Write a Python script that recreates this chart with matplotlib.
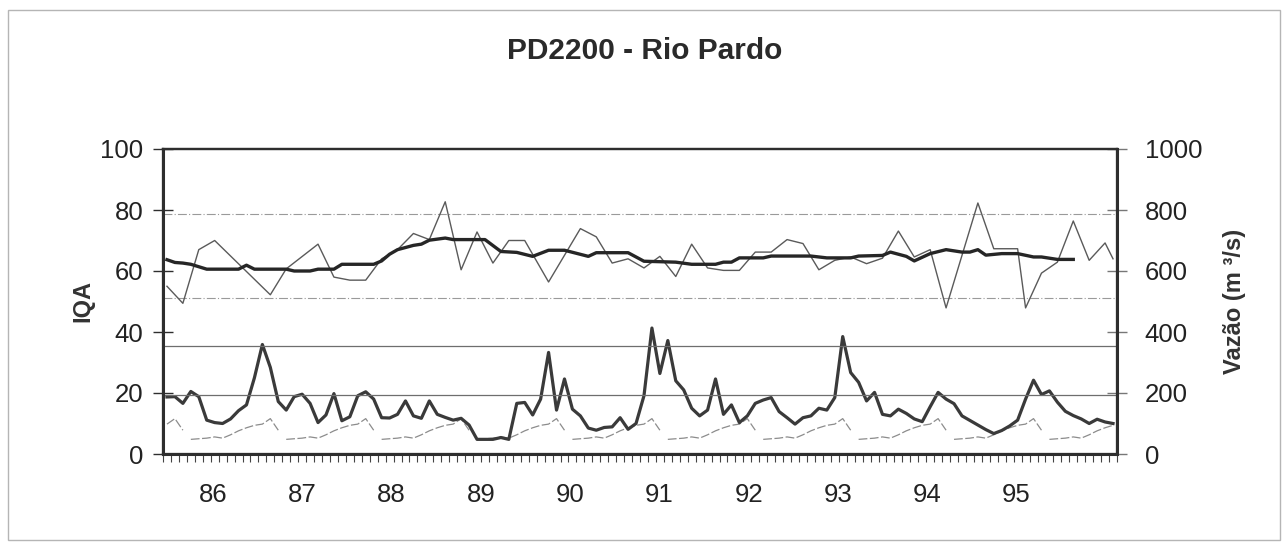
import numpy as np
import matplotlib
matplotlib.use("Agg")
import matplotlib.pyplot as plt
from matplotlib.patches import Rectangle

plt.rcParams['font.family'] = ['Liberation Sans', 'DejaVu Sans']

# ---------------- data ----------------
titulo = "PD2200 - Rio Pardo"
anos = ["86", "87", "88", "89", "90", "91", "92", "93", "94", "95"]
n_meses = 120

# monthly flow (m3/s), one value per month
vazao = [187, 188, 166, 205, 188, 111, 103, 100, 115, 142, 161, 250,
         359, 284, 172, 144, 188, 196, 166, 103, 128, 198, 109, 122,
         191, 204, 180, 119, 118, 130, 174, 125, 117, 174, 130, 120,
         111, 117, 95, 48, 48, 48, 54, 48, 166, 169, 128, 180,
         333, 144, 246, 147, 125, 85, 78, 87, 89, 119, 81, 100,
         191, 413, 264, 372, 240, 210, 150, 125, 144, 246, 130, 161,
         103, 125, 166, 177, 185, 139, 119, 98, 119, 125, 150, 144,
         185, 385, 267, 235, 174, 202, 130, 125, 147, 133, 115, 106,
         155, 202, 180, 165, 125, 110, 95, 80, 67, 77, 92, 111,
         180, 242, 195, 207, 170, 140, 126, 115, 100, 114, 105, 100]

# long-term monthly mean flow (m3/s), drawn once per year
vazao_media = [48, 50, 52, 56, 52, 63, 76, 86, 94, 98, 116, 78]
inicio_ciclo = -9   # first (partial) year starts 9 months before the axis

# IQA samples: month index and value
iqa_mes = [0, 2, 4, 6, 13, 15, 19, 21, 23, 25, 27, 29, 31, 33, 35, 37, 39, 41,
           43, 45, 48, 52, 54, 56, 58, 60, 62, 64, 66, 68, 70, 72, 74, 76, 78,
           80, 82, 84, 86, 88, 90, 92, 94, 96, 98, 102, 104, 107, 108, 110,
           112, 114, 116, 118, 119]
iqa = [55, 49.4, 67, 70, 52.2, 60.7, 68.8, 58, 57, 57, 64, 67, 72.3, 70.3,
       82.7, 60.4, 72.8, 62.6, 70, 70, 56.4, 73.9, 71.2, 62.6, 64, 61, 64.8,
       58.2, 68.8, 61, 60.2, 60.2, 66.2, 66.2, 70.3, 69, 60.4, 63.5, 64.6,
       62.4, 64.2, 73.1, 64.6, 67, 47.9, 82.3, 67.3, 67.3, 47.9, 59.3, 62.9,
       76.4, 63.5, 69.2, 64]

# IQA moving average
media_mes = [0, 1, 2, 3, 5, 9, 10, 11, 15, 16, 18, 19, 21, 22, 26, 27, 28, 29,
             31, 32, 33, 35, 36, 40, 42, 44, 46, 48, 50, 53, 54, 58, 60, 64,
             66, 69, 70, 71, 72, 75, 76, 81, 83, 86, 87, 90, 91, 93, 94, 96,
             98, 100, 101, 102, 103, 105, 107, 109, 110, 112, 114]
media_iqa = [63.7, 62.8, 62.6, 62.2, 60.6, 60.6, 61.9, 60.6, 60.6, 60, 60,
             60.6, 60.6, 62.2, 62.2, 63.3, 65.5, 67, 68.4, 68.8, 70.1, 70.8,
             70.3, 70.3, 66.4, 66.1, 64.8, 66.8, 66.8, 64.8, 66, 66, 63.2,
             62.9, 62.2, 62.2, 62.9, 62.9, 64.3, 64.3, 64.9, 64.9, 64.3, 64.3,
             64.9, 65.1, 66.2, 64.8, 63.3, 65.7, 67, 66.2, 66.2, 67, 65.2,
             65.7, 65.7, 64.6, 64.6, 63.8, 63.8]

# horizontal reference lines (IQA units)
grade_clara = [78.6, 51]
grade_escura = [35.5, 19.5]

# ---------------- figure ----------------
W, H, DPI = 1285, 552, 100
fig = plt.figure(figsize=(W / DPI, H / DPI), dpi=DPI)
fig.patch.set_facecolor('white')
fig.patches.append(Rectangle((8 / W, 12 / H), 1272 / W, 530 / H,
                             transform=fig.transFigure, fill=False,
                             edgecolor='#b5b5b5', lw=1.0))

ax = fig.add_axes([163 / W, 1 - 454 / H, 954 / W, 305 / H])
ax2 = ax.twinx()

ax.set_xlim(0, n_meses)
ax.set_ylim(0, 100)
ax2.set_ylim(0, 1000)

for g in grade_clara:
    ax.axhline(g, color='#9a9a9a', lw=0.8, ls=(0, (8, 2, 1, 2)), zorder=1)
for g in grade_escura:
    ax.axhline(g, color='#6e6e6e', lw=0.9, zorder=1)

x_mes = np.arange(n_meses) + 0.5

# long-term mean, one segment per year
for k in range(11):
    start = inicio_ciclo + 12 * k
    idx = np.arange(start, start + 12)
    keep = (idx >= 0) & (idx < n_meses)
    if keep.sum() == 0:
        continue
    vals = np.array(vazao_media)[keep]
    ax2.plot(idx[keep] + 0.5, vals, color='#8c8c8c', lw=0.9,
             ls=(0, (7, 2)), zorder=2)

ax2.plot(x_mes, vazao, color='#3a3a3a', lw=2.3, zorder=3,
         solid_joinstyle='round')

ax.plot(np.array(iqa_mes) + 0.5, iqa, color='#5a5a5a', lw=1.0, zorder=4)
ax.plot(np.array(media_mes) + 0.5, media_iqa, color='#262626', lw=2.4,
        zorder=5, solid_joinstyle='round')
ax.set_zorder(ax2.get_zorder() + 1)
ax.patch.set_visible(False)

# axes styling
for a in (ax, ax2):
    for s in a.spines.values():
        s.set_color('#2e2e2e')
        s.set_linewidth(1.6)
ax.spines['left'].set_linewidth(2.2)
ax.spines['bottom'].set_linewidth(2.2)
ax2.spines['right'].set_linewidth(2.2)

FS = 18.5
ax.set_yticks(np.arange(0, 101, 20))
ax.tick_params(axis='y', direction='inout', length=14, width=1.0,
               colors='#2e2e2e', labelsize=FS, pad=7, labelcolor='#222')
ax2.set_yticks(np.arange(0, 1001, 200))
ax2.tick_params(axis='y', direction='inout', length=14, width=1.0,
                colors='#777', labelsize=FS, pad=13, labelcolor='#222')

label_pos = 6.3 + 11.23 * np.arange(len(anos))
ax.set_xticks(label_pos)
ax.set_xticklabels(anos)
ax.set_xticks(np.arange(0, n_meses + 1), minor=True)
ax.tick_params(axis='x', which='major', length=0, labelsize=FS, pad=21,
               labelcolor='#222')
ax.tick_params(axis='x', which='minor', direction='out', length=6,
               width=0.8, colors='#444')

ax.set_ylabel("IQA", fontsize=17, fontweight='bold', labelpad=4,
              color='#333')
ax2.set_ylabel("Vazão (m ³/s)", fontsize=17, fontweight='bold', labelpad=15,
               color='#333')

fig.text(645 / W, 1 - 51 / H, titulo, ha='center', va='center',
         fontsize=21.5, fontweight='bold', color='#2a2a2a')

fig.savefig("out.png", dpi=DPI, facecolor='white')
